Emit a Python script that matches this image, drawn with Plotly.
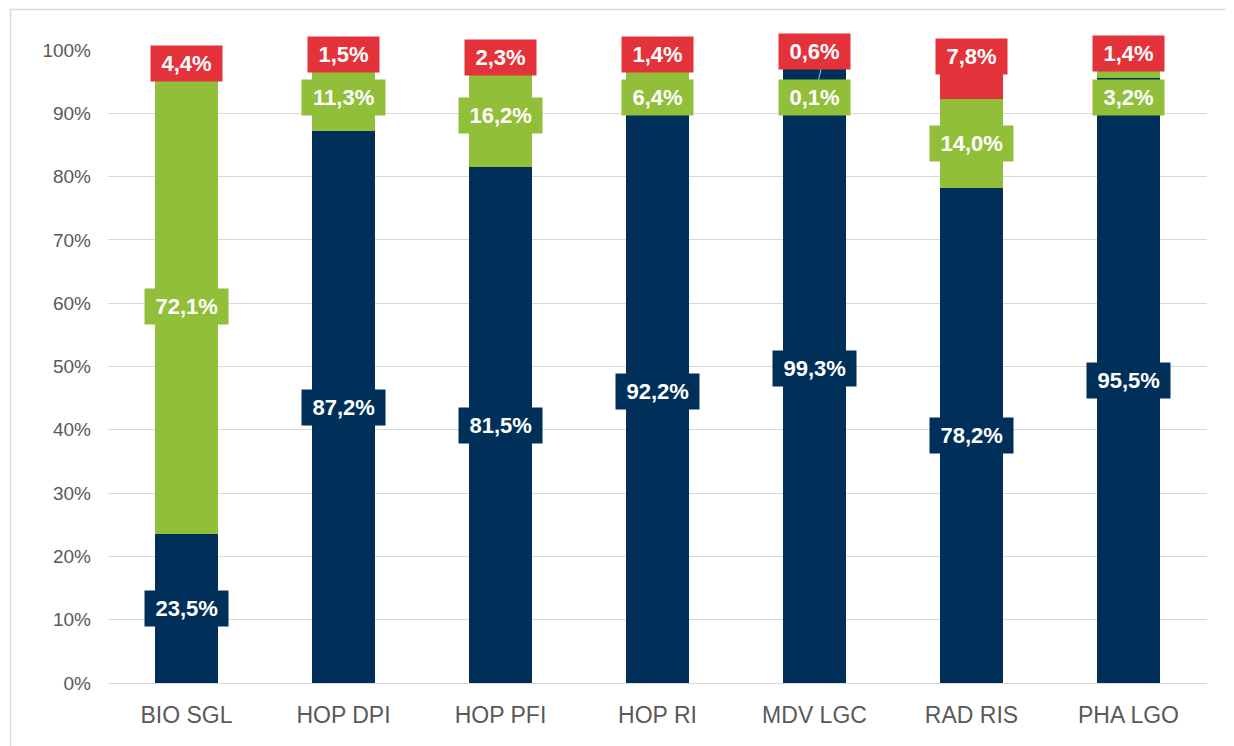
import plotly.graph_objects as go

categories = ["BIO SGL", "HOP DPI", "HOP PFI", "HOP RI", "MDV LGC", "RAD RIS", "PHA LGO"]
navy_values = [23.5, 87.2, 81.5, 92.2, 99.3, 78.2, 95.5]
green_values = [72.1, 11.3, 16.2, 6.4, 0.1, 14.0, 3.2]
red_values = [4.4, 1.5, 2.3, 1.4, 0.6, 7.8, 1.4]
y_ticks = list(range(0, 101, 10))
y_tick_labels = [f"{v}%" for v in y_ticks]

NAVY = "#00305a"
GREEN = "#92bf3a"
RED = "#e4323b"
GRID = "#d9d9d9"
TICK = "#595959"
FONT = "Arial, Liberation Sans, sans-serif"

OFF = 8  # page body margin
W, H = 1234 - OFF, 746 - OFF
ML, MR, MT, MB = 108 - OFF, 27, 50 - OFF, 63
PLOT_H = H - MT - MB
PLOT_W = W - ML - MR
PX_PER_PCT = PLOT_H / 100.0

LABEL_SIZE = 22
GREEN_LABEL_MAX = 92.5                   # green labels pushed below the red ones
RED_LABEL_OVERRIDE = {"RAD RIS": 99.0}   # manually moved label


def fmt(v):
    return f"{v:.1f}".replace(".", ",") + "%"


def text_width(s, size):
    w = {",": 0.278, "%": 0.889}
    return sum(w.get(c, 0.556) for c in s) * size


def box(cat, y, txt, col):
    return dict(x=cat, y=y, text=f"<b>{txt}</b>", bgcolor=col, borderpad=5,
                width=text_width(txt, LABEL_SIZE) + 11, height=25,
                font=dict(family=FONT, size=LABEL_SIZE, color="#ffffff"),
                xanchor="center", yanchor="middle", showarrow=False)


fig = go.Figure()
for name, vals, col in [("navy", navy_values, NAVY), ("green", green_values, GREEN), ("red", red_values, RED)]:
    fig.add_trace(go.Bar(x=categories, y=vals, name=name, marker=dict(color=col, line=dict(width=0)),
                         hoverinfo="skip"))

annotations = []
for i, cat in enumerate(categories):
    n = navy_values[i]
    annotations.append(box(cat, n / 2, fmt(n), NAVY))
for i, cat in enumerate(categories):
    n, g = navy_values[i], green_values[i]
    mid = n + g / 2
    y_lab = min(mid, GREEN_LABEL_MAX)
    d = box(cat, y_lab, fmt(g), GREEN)
    if mid - y_lab > 5:
        d.update(y=mid, showarrow=True, arrowhead=0, arrowwidth=1, arrowcolor="#b4c4d4",
                 xshift=10, ax=-10, ay=(mid - y_lab) * PX_PER_PCT)
    annotations.append(d)
for i, cat in enumerate(categories):
    n, g, r = navy_values[i], green_values[i], red_values[i]
    mid = n + g + r / 2
    annotations.append(box(cat, RED_LABEL_OVERRIDE.get(cat, mid), fmt(r), RED))

fig.update_layout(
    barmode="stack",
    bargap=0.6,
    width=W, height=H,
    margin=dict(l=ML, r=MR, t=MT, b=MB, pad=0),
    plot_bgcolor="#ffffff",
    paper_bgcolor="#ffffff",
    showlegend=False,
    annotations=annotations,
    shapes=[dict(type="rect", xref="paper", yref="paper",
                 x0=(2.5 - ML) / PLOT_W, x1=(W + 20 - ML) / PLOT_W,
                 y0=-(MB + 20) / PLOT_H, y1=1 + (MT - 1.5) / PLOT_H,
                 line=dict(color=GRID, width=1.5), layer="below")],
)
fig.update_xaxes(tickfont=dict(family=FONT, size=23, color=TICK), ticks="", showgrid=False,
                 ticklabelstandoff=16, showline=False)
fig.update_yaxes(range=[0, 100], tickvals=y_ticks, ticktext=y_tick_labels,
                 tickfont=dict(family=FONT, size=19, color=TICK), showgrid=True, gridcolor=GRID,
                 gridwidth=1, zeroline=True, zerolinecolor=GRID, zerolinewidth=1, ticks="",
                 ticklabelstandoff=16)

fig.write_html("out.html")
